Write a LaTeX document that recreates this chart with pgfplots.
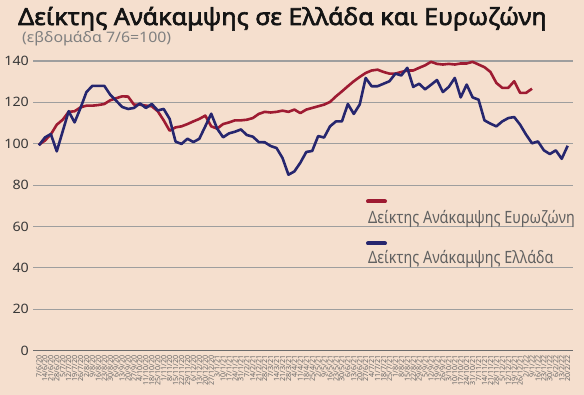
\documentclass[border=0pt]{standalone}
\usepackage{fontspec}
\setmainfont{Noto Sans}
\newfontfamily\condfont[FakeStretch=0.85]{Noto Sans}
\newfontfamily\titlefont[FakeBold=2.6,FakeStretch=1.07]{Noto Sans}
\newfontfamily\widefont[FakeStretch=1.1]{Noto Sans}
\usepackage{pgfplots}
\usepackage{pgfplotstable}
\pgfplotsset{compat=1.18}
\definecolor{bg}{RGB}{245,223,206}
\definecolor{ezred}{RGB}{158,27,50}
\definecolor{grblue}{RGB}{38,38,110}

\pgfplotstableread{
i v
0 99.2
1 103
2 104.7
3 96.3
4 106
5 115.7
6 110.3
7 117.3
8 125
9 128
10 128
11 128
12 123.7
13 120.8
14 117.8
15 116.8
16 117.3
17 119.5
18 117.3
19 119.2
20 116.1
21 116.8
22 112
23 101
24 99.9
25 102.4
26 100.8
27 102.4
28 108.4
29 114.5
30 107.3
31 103.1
32 105
33 105.8
34 106.9
35 104.2
36 103.4
37 100.8
38 100.7
39 98.9
40 97.9
41 93.1
42 85
43 86.6
44 90.8
45 96
46 96.5
47 103.7
48 103
49 108.4
50 110.8
51 110.8
52 119.2
53 114.4
54 119
55 131.8
56 127.8
57 127.8
58 129
59 130.2
60 133.9
61 133
62 136.7
63 127.5
64 129
65 126.3
66 128.5
67 130.8
68 125
69 127.5
70 131.8
71 122.4
72 128.6
73 122.4
74 121.3
75 111.3
76 109.7
77 108.4
78 110.8
79 112.4
80 112.9
81 109.2
82 104.4
83 100.2
84 101.1
85 96.8
86 95
87 96.8
88 92.7
89 99
}\greece

\pgfplotstableread{
i v
0 99.5
1 101.5
2 104.5
3 109.2
4 111.6
5 115.4
6 115.7
7 117.6
8 118.4
9 118.4
10 118.7
11 119.2
12 121
13 122
14 122.9
15 122.8
16 118.9
17 118.9
18 118.4
19 118.1
20 115.7
21 111.3
22 106.3
23 107.9
24 108.4
25 109.5
26 110.8
27 112
28 113.6
29 108.4
30 107.3
31 109.5
32 110.3
33 111.3
34 111.3
35 111.6
36 112.4
37 114.4
38 115.4
39 115.1
40 115.4
41 116
42 115.4
43 116.5
44 114.8
45 116.5
46 117.3
47 118.1
48 118.9
49 120.2
50 122.9
51 125.3
52 127.8
53 130.2
54 132.3
55 134.2
56 135.4
57 135.8
58 134.7
59 133.9
60 133.9
61 134.7
62 135.4
63 135.4
64 136.7
65 137.9
66 139.6
67 138.6
68 138.3
69 138.6
70 138.3
71 138.8
72 138.8
73 139.6
74 138.3
75 137
76 134.7
77 129.4
78 127
79 127
80 130.2
81 124.6
82 124.6
83 126.6
}\eurozone

\begin{document}
\begin{tikzpicture}
\useasboundingbox (0,0) rectangle (584bp,395bp);
\fill[bg] (0,0) rectangle (584bp,395bp);
\node[anchor=base west, inner sep=0pt, font=\titlefont\fontsize{23.5}{24}\selectfont, text=black!92] at (18bp,370bp) {Δείκτης Ανάκαμψης σε Ελλάδα και Ευρωζώνη};
\node[anchor=base west, inner sep=0pt, font=\widefont\fontsize{14.5}{14.5}\selectfont, text=black!50] at (22bp,352bp) {(εβδομάδα 7/6=100)};
\begin{axis}[
  at={(33bp,44.5bp)}, anchor=south west,
  scale only axis, width=540bp, height=289.5bp,
  xmin=-1, xmax=89.9, ymin=0, ymax=140,
  axis line style={draw=none},
  ytick={0,20,40,60,80,100,120,140},
  yticklabels={0,20,40,60,80,100,120,140},
  ymajorgrids,
  grid style={color=black!38, line width=1.1pt},
  extra y ticks={0}, extra y tick labels={},
  extra y tick style={grid style={color=black!58, line width=1.3pt}},
  major tick length=0pt,
  xtick={0,...,89},
  xticklabels={7/6/20,14/6/20,21/6/20,28/6/20,5/7/20,12/7/20,19/7/20,26/7/20,2/8/20,9/8/20,16/8/20,23/8/20,30/8/20,6/9/20,13/9/20,20/9/20,27/9/20,4/10/20,11/10/20,18/10/20,25/10/20,1/11/20,8/11/20,15/11/20,22/11/20,29/11/20,6/12/20,13/12/20,20/12/20,27/12/20,3/1/21,10/1/21,17/1/21,24/1/21,31/1/21,7/2/21,14/2/21,21/2/21,28/2/21,7/3/21,14/3/21,21/3/21,28/3/21,4/4/21,11/4/21,18/4/21,25/4/21,2/5/21,9/5/21,16/5/21,23/5/21,30/5/21,6/6/21,13/6/21,20/6/21,27/6/21,4/7/21,11/7/21,18/7/21,25/7/21,1/8/21,8/8/21,15/8/21,22/8/21,29/8/21,5/9/21,12/9/21,19/9/21,26/9/21,3/10/21,10/10/21,17/10/21,24/10/21,31/10/21,7/11/21,14/11/21,21/11/21,28/11/21,5/12/21,12/12/21,19/12/21,26/12/21,2/1/22,9/1/22,16/1/22,23/1/22,30/1/22,6/2/22,13/2/22,20/2/22},
  xticklabel style={rotate=90, anchor=east, font=\fontsize{7.2}{7.2}\selectfont, text=black!60, inner sep=0pt},
  xticklabel shift=5bp,
  yticklabel style={font=\widefont\fontsize{13}{13}\selectfont, text=black!78, inner sep=0pt, xshift=-4bp},
  /pgf/number format/assume math mode=true,
  clip=false,
]
\addplot[color=ezred, line width=2.6bp, line join=round] table[x=i, y=v] {\eurozone};
\addplot[color=grblue, line width=2.6bp, line join=round] table[x=i, y=v] {\greece};
\end{axis}
\draw[ezred, line width=4bp, line cap=round] (368bp,193.5bp) -- (385bp,193.5bp);
\draw[grblue, line width=4bp, line cap=round] (368bp,151.5bp) -- (385bp,151.5bp);
\node[anchor=base west, inner sep=0pt, font=\fontsize{17}{17}\selectfont\condfont, text=black!62] at (368bp,171bp) {Δείκτης Ανάκαμψης Ευρωζώνη};
\node[anchor=base west, inner sep=0pt, font=\fontsize{17}{17}\selectfont\condfont, text=black!62] at (368bp,131bp) {Δείκτης Ανάκαμψης Ελλάδα};
\end{tikzpicture}
\end{document}
